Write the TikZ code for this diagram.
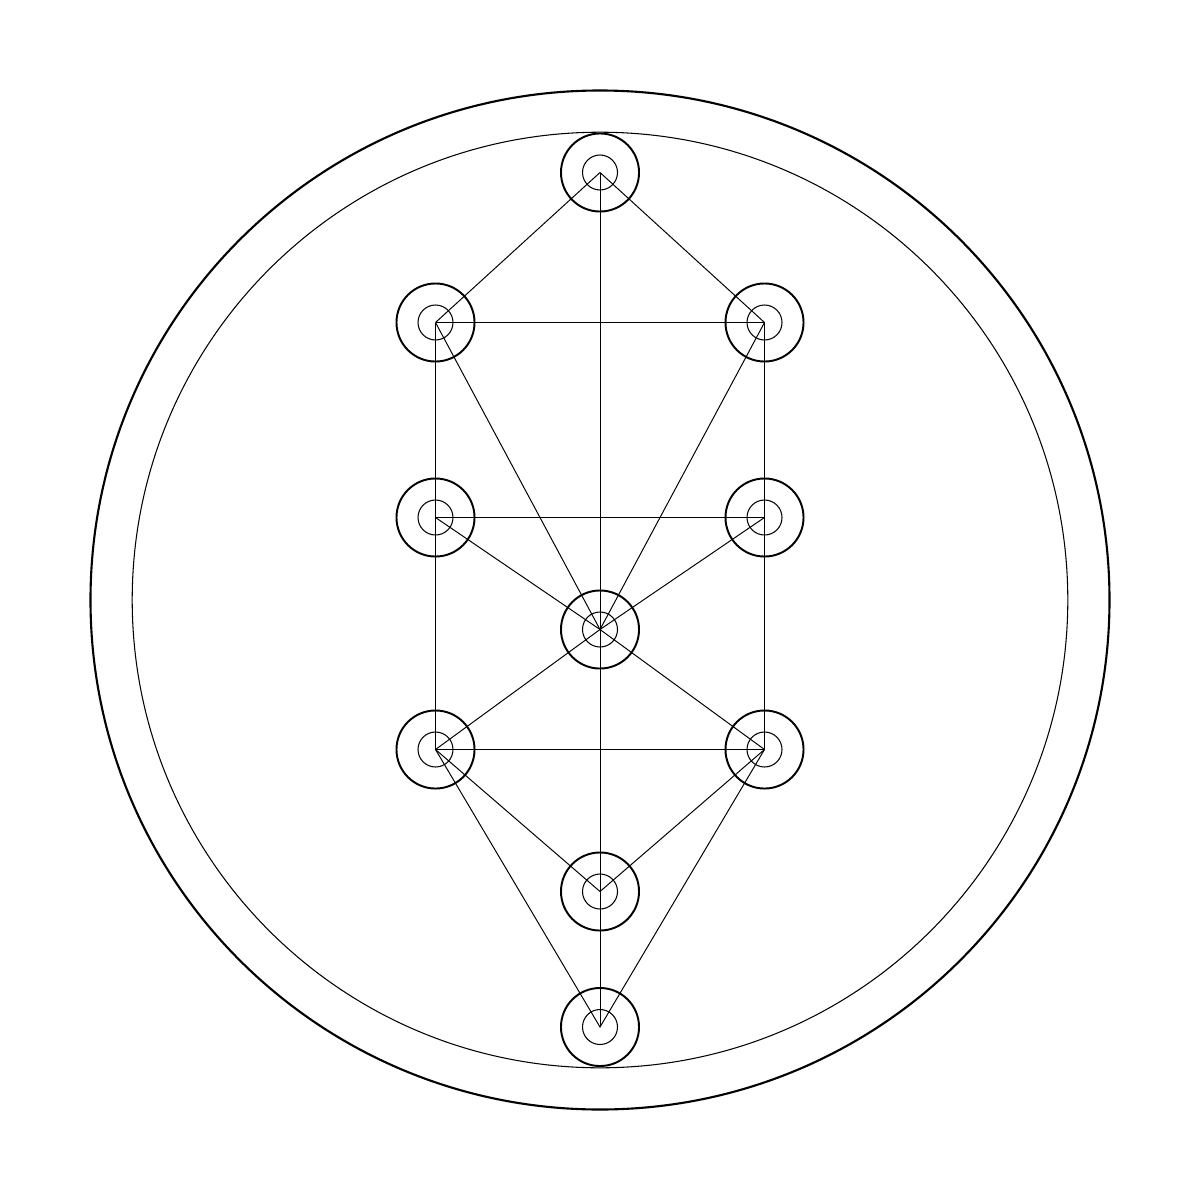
\documentclass[tikz,border=0pt]{standalone}
\begin{document}
\begin{tikzpicture}[x=0.01cm,y=-0.01cm,
  sephira/.style={circle,draw,line width=0.55pt,minimum size=0.78cm,inner sep=0pt},
  core/.style={line width=0.3pt},
  path/.style={line width=0.28pt}]
\useasboundingbox (0,0) rectangle (1200,1200);
\fill[white] (0,0) rectangle (1200,1200);
\coordinate (O) at (600,600);
\draw[line width=0.6pt] (O) circle (509.5);
\draw[line width=0.3pt] (O) circle (467.8);
\node[sephira] (kether) at (600,172.5) {};
\node[sephira] (binah) at (435.5,322.5) {};
\node[sephira] (chokmah) at (764.5,322.5) {};
\node[sephira] (geburah) at (435.5,517.5) {};
\node[sephira] (chesed) at (764.5,517.5) {};
\node[sephira] (tiphareth) at (600,629.5) {};
\node[sephira] (hod) at (435.5,749.5) {};
\node[sephira] (netzach) at (764.5,749.5) {};
\node[sephira] (yesod) at (600,891.5) {};
\node[sephira] (malkuth) at (600,1027) {};
\foreach \n in {kether,binah,chokmah,geburah,chesed,tiphareth,hod,netzach,yesod,malkuth}
  \draw[core] (\n.center) circle (17.5);
\draw[path] (binah.center) -- (kether.center) -- (chokmah.center);
\draw[path] (kether.center) -- (malkuth.center);
\draw[path] (binah.center) -- (chokmah.center);
\draw[path] (binah.center) -- (hod.center);
\draw[path] (chokmah.center) -- (netzach.center);
\draw[path] (binah.center) -- (tiphareth.center) -- (chokmah.center);
\draw[path] (geburah.center) -- (chesed.center);
\draw[path] (geburah.center) -- (tiphareth.center) -- (chesed.center);
\draw[path] (hod.center) -- (tiphareth.center) -- (netzach.center);
\draw[path] (hod.center) -- (netzach.center);
\draw[path] (hod.center) -- (yesod.center) -- (netzach.center);
\draw[path] (hod.center) -- (malkuth.center) -- (netzach.center);
\end{tikzpicture}
\end{document}
